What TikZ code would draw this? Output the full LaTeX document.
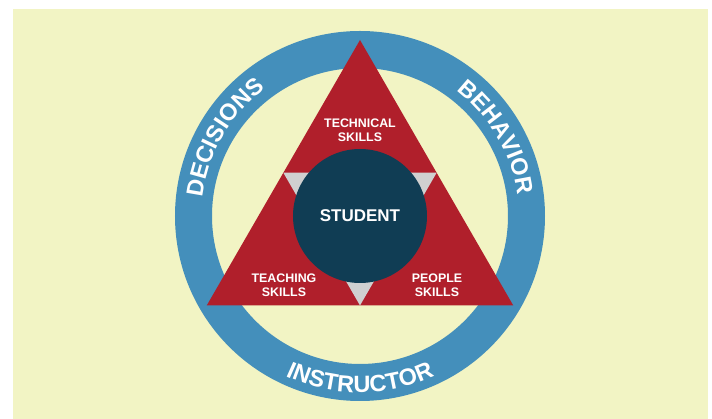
\documentclass[tikz,border=0pt]{standalone}
\usepackage{fontspec}
\setmainfont{Liberation Sans}
\usetikzlibrary{decorations.text}
\definecolor{bgyellow}{RGB}{242,244,196}
\definecolor{ringblue}{RGB}{68,143,187}
\definecolor{skillred}{RGB}{176,31,43}
\definecolor{studentnavy}{RGB}{16,61,84}
\definecolor{gapgrey}{RGB}{208,208,208}
\newcommand{\ringfont}{\fontsize{23.5}{23.5}\selectfont\bfseries}

\begin{document}
\begin{tikzpicture}[x=1pt,y=1pt,
  skill/.style={text=white,font=\fontsize{12.4}{13.5}\selectfont\bfseries,align=center},
  ringtext/.style={decorate,decoration={text along path,text align=center,text color=white,text={|\ringfont|#1}}}]
\useasboundingbox (-360,-203) rectangle (352,216);
\fill[white] (-360,-203) rectangle (352,216);
\fill[bgyellow] (-347,-203) rectangle (348,207);
\fill[ringblue,even odd rule] (0,0) circle[radius=185pt] (0,0) circle[radius=148pt];
\fill[skillred] ([yshift=-1pt]90:177pt) -- ([yshift=-1pt]210:177pt) -- ([yshift=-1pt]330:177pt) -- cycle;
\fill[gapgrey] ([yshift=-1pt]150:88.5pt) -- ([yshift=-1pt]30:88.5pt) -- ([yshift=-1pt]270:88.5pt) -- cycle;
\node(student)[circle,fill=studentnavy,minimum size=134pt,inner sep=0pt,text=white,font=\fontsize{17}{17}\selectfont\bfseries] at (0,0){STUDENT};
\node(technical)[skill] at (0,86){TECHNICAL\\SKILLS};
\node(teaching)[skill] at (-76,-69){TEACHING\\SKILLS};
\node(people)[skill] at (77,-69){PEOPLE\\SKILLS};
\path[ringtext=DECISIONS] (210:158.6pt) arc[start angle=210,end angle=90,radius=158.6pt];
\path[ringtext=BEHAVIOR] (90:158.6pt) arc[start angle=90,end angle=-30,radius=158.6pt];
\path[ringtext=INSTRUCTOR] (210:176.5pt) arc[start angle=210,end angle=330,radius=176.5pt];
\end{tikzpicture}
\end{document}
